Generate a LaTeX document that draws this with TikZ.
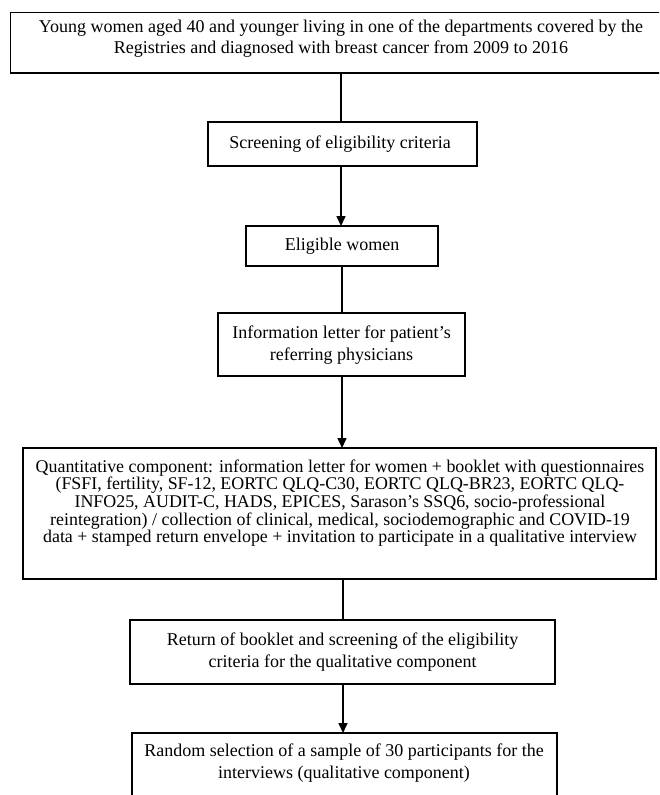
\documentclass[tikz,border=0pt]{standalone}
\usepackage{fontspec}
\setmainfont{Liberation Serif}
\usetikzlibrary{arrows.meta}
\begin{document}
\begin{tikzpicture}[x=1pt,y=-1pt,
  boxline/.style={line width=1.8pt},
  txt/.style={align=center,inner sep=0pt,font=\fontsize{18}{21.7}\selectfont},
  conn/.style={line width=1.6pt},
  arr/.style={conn,-{Triangle[length=10pt,width=9pt]}}]
\useasboundingbox (0,0) rectangle (659,795);
\clip (0,0) rectangle (659,795);
% boxes
\draw[boxline] (10.5,12.5) rectangle (664,73);
\node[txt] (t1) at (341,38.5) {Young women aged 40 and younger living in one of the departments covered by the\\Registries and diagnosed with breast cancer from 2009 to 2016};
\coordinate (b1) at (341,73);
\draw[boxline] (208,122) rectangle (477,166);
\node[txt] (t2) at (340,144.5) {Screening of eligibility criteria};
\coordinate (a2) at (341,122);
\coordinate (b2) at (341,166);
\draw[boxline] (246,226) rectangle (438,266);
\node[txt] (t3) at (342,246.5) {Eligible women};
\coordinate (a3) at (341,226);
\coordinate (b3) at (342,266);
\draw[boxline] (218,313) rectangle (465,376);
\node[txt] (t4) at (341.5,345) {Information letter for patient’s\\referring physicians};
\coordinate (a4) at (342,313);
\coordinate (b4) at (342,376);
\draw[boxline] (23,448) rectangle (656,579);
\node[txt,font=\fontsize{17.9}{17.6}\selectfont] (t5) at (340,503) {Quantitative component: information letter for women + booklet with questionnaires\\(FSFI, fertility, SF-12, EORTC QLQ-C30, EORTC QLQ-BR23, EORTC QLQ-\\INFO25, AUDIT-C, HADS, EPICES, Sarason’s SSQ6, socio-professional\\reintegration) / collection of clinical, medical, sociodemographic and COVID-19\\data + stamped return envelope + invitation to participate in a qualitative interview};
\coordinate (a5) at (342,448);
\coordinate (b5) at (343,579);
\draw[boxline] (130,620) rectangle (555,684);
\node[txt] (t6) at (342.5,652) {Return of booklet and screening of the eligibility\\criteria for the qualitative component};
\coordinate (a6) at (343,620);
\coordinate (b6) at (343,684);
\draw[boxline] (132,733) rectangle (557,810);
\node[txt] (t7) at (344,763) {Random selection of a sample of 30 participants for the\\interviews (qualitative component)};
\coordinate (a7) at (343,733);
% connectors
\draw[conn] (b1) -- (a2);
\draw[arr] (b2) -- (a3);
\draw[conn] (b3) -- (a4);
\draw[arr] (b4) -- (a5);
\draw[conn] (b5) -- (a6);
\draw[arr] (b6) -- (a7);
\end{tikzpicture}
\end{document}
